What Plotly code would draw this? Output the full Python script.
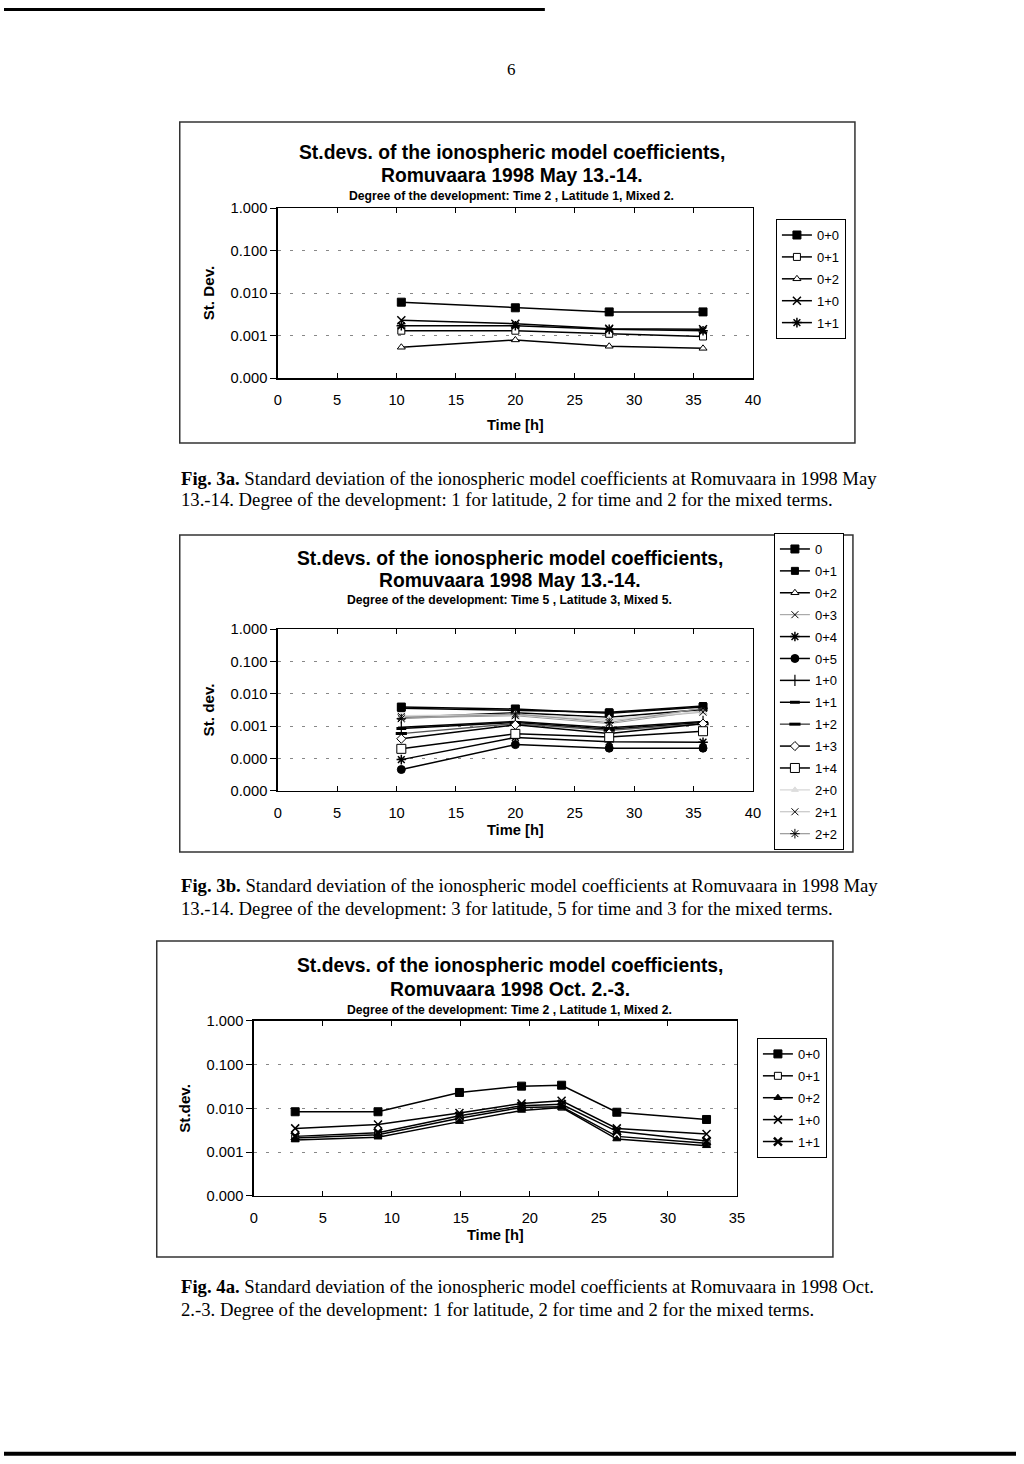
import plotly.graph_objects as go

W, H = 1024, 1464
# the photographed page is framed with a thin border, so positions read off the
# reference are converted to page positions before use
SX, OFFX = 1 / 0.988, 4.35
SY, OFFY = 1480 / 1464, 8
def px(x): return (x * SX - OFFX) / W
def py(y): return 1 - (y * SY - OFFY) / H

SANS = "Liberation Sans, Arial, sans-serif"
SERIF = "Liberation Serif, Times New Roman, serif"

# ---------------- data: Fig. 3a ----------------
c1_names = ["0+0", "0+1", "0+2", "1+0", "1+1"]
c1_time = [10.4, 20.0, 27.9, 35.8]
c1_00 = [0.0061, 0.0045, 0.0036, 0.0036]
c1_01 = [0.0013, 0.0013, 0.0011, 0.00095]
c1_02 = [0.00053, 0.00079, 0.00056, 0.0005]
c1_10 = [0.0023, 0.0019, 0.00145, 0.0014]
c1_11 = [0.0017, 0.0017, 0.0014, 0.0013]

# ---------------- data: Fig. 3b ----------------
c2_names = ["0", "0+1", "0+2", "0+3", "0+4", "0+5", "1+0", "1+1", "1+2",
            "1+3", "1+4", "2+0", "2+1", "2+2"]
c2_time = [10.4, 20.0, 27.9, 35.8]
c2_0 = [0.0039, 0.0034, 0.0025, 0.0039]
c2_01 = [0.0036, 0.0031, 0.0027, 0.0042]
c2_02 = [0.0019, 0.0026, 0.0019, 0.0033]
c2_03 = [0.0018, 0.0021, 0.0012, 0.0030]
c2_04 = [0.000093, 0.00045, 0.00033, 0.00032]
c2_05 = [0.000046, 0.00027, 0.00021, 0.00021]
c2_10 = [0.00093, 0.0014, 0.0009, 0.0014]
c2_11 = [0.00085, 0.0013, 0.0008, 0.0013]
c2_12 = [0.00059, 0.0012, 0.00075, 0.0012]
c2_13 = [0.00041, 0.0011, 0.0006, 0.0012]
c2_14 = [0.0002, 0.00058, 0.00046, 0.0007]
c2_20 = [0.0021, 0.0023, 0.0017, 0.0028]
c2_21 = [0.0020, 0.0022, 0.0015, 0.0027]
c2_22 = [0.0017, 0.0024, 0.0013, 0.0036]

# ---------------- data: Fig. 4a ----------------
c3_names = ["0+0", "0+1", "0+2", "1+0", "1+1"]
c3_time = [3.0, 9.0, 14.9, 19.4, 22.3, 26.3, 32.8]
c3_00 = [0.0084, 0.0084, 0.0232, 0.0324, 0.034, 0.0082, 0.0056]
c3_01 = [0.0021, 0.0025, 0.0060, 0.0105, 0.0110, 0.0023, 0.0016]
c3_02 = [0.0019, 0.0022, 0.0050, 0.0090, 0.0105, 0.0020, 0.0014]
c3_10 = [0.0035, 0.0043, 0.0079, 0.0130, 0.0150, 0.0035, 0.0026]
c3_11 = [0.0023, 0.0028, 0.0068, 0.0115, 0.0125, 0.0030, 0.0018]

tick_vals4 = [1e-4, 1e-3, 1e-2, 1e-1, 1]
tick_text4 = ["0.000", "0.001", "0.010", "0.100", "1.000"]
tick_vals5 = [1e-5, 1e-4, 1e-3, 1e-2, 1e-1, 1]
tick_text5 = ["0.000", "0.000", "0.001", "0.010", "0.100", "1.000"]

fig = go.Figure()

def add(xs, ys, name, ax, leg, symbol, mcolor="black", mline="black",
        size=7, lcolor="black", lwidth=1.5, mlw=1, dash="solid"):
    fig.add_trace(go.Scatter(
        x=xs, y=ys, name=name, mode="lines+markers",
        xaxis="x" + ax, yaxis="y" + ax, legend=leg, legendgroup=leg + name,
        line=dict(color=lcolor, width=lwidth, dash=dash),
        marker=dict(symbol=symbol, size=size, color=mcolor,
                    line=dict(color=mline, width=mlw)),
    ))

# Fig 3a
add(c1_time, c1_00, c1_names[0], "", "legend", "square", size=8)
add(c1_time, c1_01, c1_names[1], "", "legend", "square", mcolor="white", size=7)
add(c1_time, c1_02, c1_names[2], "", "legend", "triangle-up", mcolor="white", size=7)
add(c1_time, c1_10, c1_names[3], "", "legend", "x-thin-open", size=8, mlw=1.5)
add(c1_time, c1_11, c1_names[4], "", "legend", "asterisk-open", size=8, mlw=1.5)

# Fig 3b
add(c2_time, c2_0, c2_names[0], "2", "legend2", "square", size=8)
add(c2_time, c2_01, c2_names[1], "2", "legend2", "square", size=7)
add(c2_time, c2_02, c2_names[2], "2", "legend2", "triangle-up", mcolor="white", size=7)
add(c2_time, c2_03, c2_names[3], "2", "legend2", "x-thin-open", mline="#999", size=7,
    lcolor="#999", lwidth=1)
add(c2_time, c2_04, c2_names[4], "2", "legend2", "asterisk-open", size=8, mlw=1.5)
add(c2_time, c2_05, c2_names[5], "2", "legend2", "circle", size=8)
add(c2_time, c2_10, c2_names[6], "2", "legend2", "line-ns-open", size=8, mlw=1.2)
add(c2_time, c2_11, c2_names[7], "2", "legend2", "line-ew-open", size=7, mlw=3)
add(c2_time, c2_12, c2_names[8], "2", "legend2", "line-ew-open", mline="#777", size=8,
    mlw=3, lcolor="#555")
add(c2_time, c2_13, c2_names[9], "2", "legend2", "diamond", mcolor="white", size=7)
add(c2_time, c2_14, c2_names[10], "2", "legend2", "square", mcolor="white", size=9)
add(c2_time, c2_20, c2_names[11], "2", "legend2", "triangle-up", mcolor="#ddd", mline="#ddd",
    size=6, lcolor="#ddd", lwidth=1.5)
add(c2_time, c2_21, c2_names[12], "2", "legend2", "x-thin-open", mline="#aaa", size=7,
    lcolor="#bbb", lwidth=1)
add(c2_time, c2_22, c2_names[13], "2", "legend2", "asterisk-open", mline="#888", size=8,
    lcolor="#999", lwidth=1.2)

# Fig 4a
add(c3_time, c3_00, c3_names[0], "3", "legend3", "square", size=8)
add(c3_time, c3_01, c3_names[1], "3", "legend3", "square", mcolor="white", size=7)
add(c3_time, c3_02, c3_names[2], "3", "legend3", "triangle-up", size=7)
add(c3_time, c3_10, c3_names[3], "3", "legend3", "x-thin-open", size=8, mlw=1.5)
add(c3_time, c3_11, c3_names[4], "3", "legend3", "x-thin-open", size=8, mlw=2.5)

def xax(d, anchor, xmax, standoff):
    return dict(domain=d, anchor=anchor, range=[0, xmax], dtick=5, tick0=0,
                showline=True, linecolor="black", linewidth=1.5, mirror="ticks",
                ticks="inside", ticklen=5, tickcolor="black", showgrid=False,
                zeroline=False, ticklabelstandoff=8,
                tickfont=dict(family=SANS, size=14.7, color="black"),
                title=dict(text="<b>Time [h]</b>", font=dict(family=SANS, size=14.7, color="black"),
                           standoff=standoff))

def yax(d, anchor, lo, vals, texts, title):
    return dict(domain=d, anchor=anchor, type="log", range=[lo, 0],
                tickvals=vals, ticktext=texts, ticks="outside", ticklen=6,
                tickcolor="black", showline=True, linecolor="black", linewidth=1.5,
                mirror=True, showgrid=True, gridcolor="#888", gridwidth=1,
                griddash="3px,9px", zeroline=False,
                tickfont=dict(family=SANS, size=14.7, color="black"),
                title=dict(text="<b>" + title + "</b>", font=dict(family=SANS, size=15.2, color="black"),
                           standoff=12))

legbase = dict(bgcolor="white", bordercolor="black", borderwidth=1,
               font=dict(family=SANS, size=13, color="black"),
               xanchor="left", yanchor="top", tracegroupgap=2, itemwidth=30)

shapes = []
def box(x0, y0, x1, y1, w=1.5, c="#333"):
    shapes.append(dict(type="rect", xref="paper", yref="paper", x0=px(x0), x1=px(x1),
                       y0=py(y1), y1=py(y0), line=dict(color=c, width=w)))
box(180, 122, 855, 443)
box(180, 535, 853, 852)
box(157, 941, 833, 1257)
shapes.append(dict(type="line", xref="paper", yref="paper", x0=0, x1=px(545),
                   y0=0.999, y1=0.999, line=dict(color="black", width=3)))
shapes.append(dict(type="line", xref="paper", yref="paper", x0=0, x1=1,
                   y0=0.0015, y1=0.0015, line=dict(color="black", width=4)))

ann = []
def text(x, y, t, size, family=SANS, anchor="center", bold=False):
    ann.append(dict(xref="paper", yref="paper", x=px(x), y=py(y), text=("<b>%s</b>" % t) if bold else t,
                    showarrow=False, xanchor=anchor, yanchor="middle",
                    font=dict(family=family, size=size, color="black")))

text(512, 69, "6", 17, family=SERIF)
# chart titles
for (cx, y1, y2, y3, sub, line2) in [
        (512, 152, 175, 196, "Degree of the development: Time 2 , Latitude 1, Mixed 2.",
         "Romuvaara 1998 May 13.-14."),
        (510, 558, 580, 600, "Degree of the development: Time 5 , Latitude 3, Mixed 5.",
         "Romuvaara 1998 May 13.-14."),
        (510, 966, 990, 1010, "Degree of the development: Time 2 , Latitude 1, Mixed 2.",
         "Romuvaara 1998 Oct. 2.-3.")]:
    text(cx, y1, "St.devs. of the ionospheric model coefficients,", 19.3, bold=True)
    text(cx, y2, line2, 19.3, bold=True)
    text(cx, y3, sub, 12.2, bold=True)

# captions
caps = [
    (478, 499, "3a", "1998 May", "13.-14. Degree of the development: 1 for latitude, 2 for time and 2 for the mixed terms."),
    (886, 909, "3b", "1998 May", "13.-14. Degree of the development: 3 for latitude, 5 for time and 3 for the mixed terms."),
    (1287, 1310, "4a", "1998 Oct.", "2.-3. Degree of the development: 1 for latitude, 2 for time and 2 for the mixed terms."),
]
for (ya, yb, lab, tail, second) in caps:
    ann.append(dict(xref="paper", yref="paper", x=px(179), y=py(ya), showarrow=False,
                    xanchor="left", yanchor="middle",
                    text="<b>Fig. %s.</b> Standard deviation of the ionospheric model coefficients at Romuvaara in %s" % (lab, tail),
                    font=dict(family=SERIF, size=18.7, color="black")))
    ann.append(dict(xref="paper", yref="paper", x=px(179), y=py(yb), showarrow=False,
                    xanchor="left", yanchor="middle", text=second,
                    font=dict(family=SERIF, size=18.7, color="black")))

fig.update_layout(
    width=W, height=H, margin=dict(l=0, r=0, t=0, b=0),
    paper_bgcolor="white", plot_bgcolor="white", hovermode=False,
    xaxis=xax([px(278), px(753)], "y", 40, 12),
    yaxis=yax([py(378), py(208)], "x", -4, tick_vals4, tick_text4, "St. Dev."),
    xaxis2=xax([px(278), px(753)], "y2", 40, 4),
    yaxis2=yax([py(791), py(629)], "x2", -5, tick_vals5, tick_text5, "St. dev."),
    xaxis3=xax([px(254), px(737)], "y3", 35, 4),
    yaxis3=yax([py(1196), py(1021)], "x3", -4, tick_vals4, tick_text4, "St.dev."),
    legend=dict(legbase, x=px(776), y=py(219)),
    legend2=dict(legbase, x=px(774), y=py(533)),
    legend3=dict(legbase, x=px(757), y=py(1038)),
    shapes=shapes, annotations=ann, showlegend=True,
)

fig.write_html("out.html", config={"displayModeBar": False, "staticPlot": True},
               post_script="document.body.style.margin='0px';document.body.style.overflow='hidden';")
